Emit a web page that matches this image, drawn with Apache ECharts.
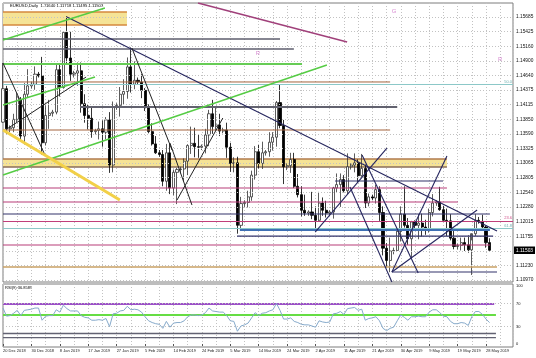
<!DOCTYPE html>
<html><head><meta charset="utf-8">
<script src="https://cdn.jsdelivr.net/npm/echarts@6/dist/echarts.min.js"></script>
<style>html,body{margin:0;padding:0;background:#fff}#c{width:536px;height:358px}</style>
</head><body><div id="c"></div>
<script>
// ---------- DATA ----------
const dateLabels = ["20 Dec 2018","30 Dec 2018","8 Jan 2019","17 Jan 2019","27 Jan 2019","5 Feb 2019","14 Feb 2019","24 Feb 2019","5 Mar 2019","14 Mar 2019","24 Mar 2019","2 Apr 2019","11 Apr 2019","21 Apr 2019","30 Apr 2019","9 May 2019","19 May 2019","28 May 2019"];
// [open, high, low, close] per daily bar (broker with Sunday bars)
const candles = [
[1.1380,1.1486,1.1379,1.1440],[1.1440,1.1445,1.1358,1.1368],[1.1368,1.1374,1.1362,1.1370],[1.1370,1.1395,1.1362,1.1385],
[1.1385,1.1432,1.1380,1.1425],[1.1420,1.1425,1.1348,1.1355],[1.1355,1.1450,1.1340,1.1430],[1.1430,1.1475,1.1425,1.1445],
[1.1445,1.1452,1.1440,1.1448],[1.1448,1.1480,1.1438,1.1466],[1.1466,1.1470,1.1460,1.1463],[1.1463,1.1497,1.1322,1.1343],
[1.1343,1.1410,1.1338,1.1392],[1.1392,1.1420,1.1368,1.1396],[1.1396,1.1402,1.1390,1.1398],[1.1398,1.1484,1.1394,1.1474],
[1.1474,1.1484,1.1426,1.1442],[1.1442,1.1542,1.1440,1.1541],[1.1541,1.1570,1.1484,1.1495],[1.1495,1.1542,1.1454,1.1466],
[1.1466,1.1472,1.1460,1.1468],[1.1468,1.1487,1.1445,1.1472],[1.1472,1.1487,1.1397,1.1413],[1.1413,1.1430,1.1379,1.1392],
[1.1392,1.1412,1.1367,1.1387],[1.1387,1.1407,1.1352,1.1363],[1.1363,1.1368,1.1358,1.1365],[1.1365,1.1381,1.1349,1.1368],
[1.1368,1.1383,1.1336,1.1362],[1.1362,1.1389,1.1349,1.1384],[1.1384,1.1398,1.1289,1.1303],[1.1303,1.1417,1.1290,1.1407],
[1.1407,1.1414,1.1402,1.1410],[1.1410,1.1443,1.1390,1.1430],[1.1430,1.1457,1.1412,1.1435],[1.1435,1.1496,1.1422,1.1479],
[1.1479,1.1514,1.1433,1.1448],[1.1448,1.1489,1.1439,1.1455],[1.1455,1.1460,1.1448,1.1452],[1.1452,1.1466,1.1423,1.1437],
[1.1437,1.1441,1.1400,1.1407],[1.1407,1.1412,1.1360,1.1363],[1.1363,1.1378,1.1338,1.1341],[1.1341,1.1355,1.1323,1.1325],
[1.1325,1.1330,1.1318,1.1322],[1.1322,1.1330,1.1265,1.1274],[1.1274,1.1341,1.1257,1.1325],[1.1325,1.1341,1.1251,1.1262],
[1.1262,1.1295,1.1249,1.1290],[1.1290,1.1298,1.1233,1.1295],[1.1295,1.1300,1.1288,1.1296],[1.1296,1.1315,1.1274,1.1310],
[1.1310,1.1340,1.1285,1.1338],[1.1338,1.1372,1.1323,1.1342],[1.1342,1.1370,1.1317,1.1336],[1.1336,1.1358,1.1316,1.1335],
[1.1335,1.1340,1.1330,1.1337],[1.1337,1.1368,1.1324,1.1357],[1.1357,1.1402,1.1337,1.1395],[1.1395,1.1420,1.1359,1.1372],
[1.1372,1.1408,1.1365,1.1375],[1.1375,1.1395,1.1355,1.1364],[1.1364,1.1370,1.1360,1.1366],[1.1366,1.1379,1.1316,1.1335],
[1.1335,1.1343,1.1291,1.1306],[1.1306,1.1317,1.1290,1.1307],[1.1307,1.1318,1.1180,1.1195],[1.1195,1.1246,1.1187,1.1234],
[1.1234,1.1240,1.1228,1.1236],[1.1236,1.1257,1.1227,1.1246],[1.1246,1.1293,1.1239,1.1285],[1.1285,1.1337,1.1277,1.1327],
[1.1327,1.1339,1.1297,1.1306],[1.1306,1.1345,1.1296,1.1325],[1.1325,1.1330,1.1320,1.1327],[1.1327,1.1362,1.1318,1.1344],
[1.1344,1.1362,1.1329,1.1353],[1.1353,1.1418,1.1336,1.1415],[1.1415,1.1448,1.1369,1.1374],[1.1374,1.1384,1.1269,1.1300],
[1.1300,1.1306,1.1294,1.1302],[1.1302,1.1325,1.1289,1.1313],[1.1313,1.1325,1.1262,1.1265],[1.1265,1.1287,1.1245,1.1250],
[1.1250,1.1265,1.1211,1.1222],[1.1222,1.1250,1.1212,1.1217],[1.1217,1.1222,1.1212,1.1219],[1.1219,1.1255,1.1206,1.1213],
[1.1213,1.1229,1.1184,1.1204],[1.1204,1.1255,1.1201,1.1235],[1.1235,1.1245,1.1212,1.1222],[1.1222,1.1239,1.1209,1.1217],
[1.1217,1.1222,1.1212,1.1219],[1.1219,1.1264,1.1207,1.1262],[1.1262,1.1288,1.1253,1.1268],[1.1268,1.1288,1.1228,1.1277],
[1.1277,1.1285,1.1254,1.1257],[1.1257,1.1324,1.1251,1.1300],[1.1300,1.1306,1.1295,1.1303],[1.1303,1.1324,1.1290,1.1307],
[1.1307,1.1313,1.1272,1.1284],[1.1284,1.1323,1.1282,1.1297],[1.1297,1.1304,1.1226,1.1235],[1.1235,1.1252,1.1229,1.1246],
[1.1246,1.1250,1.1240,1.1244],[1.1244,1.1268,1.1234,1.1259],[1.1259,1.1265,1.1203,1.1218],[1.1218,1.1229,1.1141,1.1154],
[1.1154,1.1163,1.1120,1.1132],[1.1132,1.1173,1.1111,1.1149],[1.1149,1.1155,1.1143,1.1150],[1.1150,1.1191,1.1148,1.1184],
[1.1184,1.1229,1.1166,1.1215],[1.1215,1.1265,1.1191,1.1195],[1.1195,1.1208,1.1160,1.1171],[1.1171,1.1203,1.1136,1.1201],
[1.1201,1.1204,1.1190,1.1195],[1.1195,1.1215,1.1170,1.1199],[1.1199,1.1216,1.1175,1.1192],[1.1192,1.1205,1.1178,1.1189],
[1.1189,1.1225,1.1182,1.1218],[1.1218,1.1251,1.1211,1.1235],[1.1235,1.1240,1.1230,1.1237],[1.1237,1.1264,1.1221,1.1223],
[1.1223,1.1230,1.1203,1.1204],[1.1204,1.1225,1.1176,1.1203],[1.1203,1.1215,1.1168,1.1172],[1.1172,1.1187,1.1152,1.1157],
[1.1157,1.1162,1.1152,1.1159],[1.1159,1.1173,1.1150,1.1164],[1.1164,1.1173,1.1149,1.1160],[1.1160,1.1177,1.1146,1.1151],
[1.1151,1.1168,1.1106,1.1180],[1.1180,1.1215,1.1176,1.1204],[1.1204,1.1210,1.1198,1.1202],[1.1202,1.1214,1.1187,1.1192],
[1.1192,1.1194,1.1155,1.1164],[1.11640,1.11718,1.11495,1.11503]
];
const rsiValues = [
62,48,49,53,58,49,58,59,60,62, 62,41,48,49,49,59,55,67,61,57,
57,57,49,46,45,41,41,42,41,44, 30,52,53,57,58,65,59,60,59,55,
47,40,37,35,34,27,39,29,36,37, 37,40,47,50,50,49,50,54,62,57,
56,55,55,49,40,39,22,31,33,36, 45,54,49,53,54,57,59,70,58,43,
43,45,39,37,34,33,33,31,29,40, 38,37,38,52,53,56,51,61,62,63,
58,60,41,44,45,47,40,27,23,27, 29,40,50,46,41,47,47,48,47,47,
55,59,59,54,48,47,39,35,35,37, 36,32,47,56,56,51,43,36.86
];
const priceTicks = [1.10970,1.11230,1.11493,1.11755,1.12015,1.12280,1.12540,1.12805,1.13065,1.13325,1.13590,1.13850,1.14115,1.14375,1.14640,1.14900,1.15160,1.15425,1.15685];
const currentPrice = 1.11503;
const headerOHLC = [1.11640,1.11718,1.11495,1.11503];
const rsiTicks = [100,70,30,0];
const rsiDotted = [70,30];
const rsiName = "RSI(9)";
const rsiLast = "36.8589";

// horizontal levels: [price, fromBar, toBar]
const grayLevels = [[1.15291,0,78.0],[1.15111,0,81.9]];
const greenLevels = [[1.14842,0,84.2]];
const brownLevels = [[1.14520,0,109.0],[1.13659,0,109.0]];
const darkGrayLevels = [[1.14071,21.7,111.0]];
const navyLevels = [[1.12745,93.5,123.9],[1.12153,0,137.1],[1.11758,65.9,138.0],[1.11113,109.5,139.1]];
const pinkLevels = [[1.12619,0,125.0],[1.12368,0,128.1],[1.11597,0,137.1]];
const blueLevels = [[1.11866,66.7,137.1]];
const tanLevels = [[1.11203,0,139.1]];
// full-width fibonacci levels: [price, text]
const fibCyan = [[1.14475,"50.0"],[1.11893,"61.8"]];
const fibPink = [[1.12027,"23.6"]];
// zones: [fromBar, toBar, topPrice, bottomPrice]
const zones = [[0,34.9,1.15775,1.15542],[0,125.0,1.13139,1.12996]];
// trend lines: [bar0, price0, bar1, price1]
const navyTrends = [[18.0,1.15685,139.1,1.11850],[101.1,1.13211,116.9,1.11095],[97.7,1.12637,109.5,1.10934],
  [87.9,1.11830,108.1,1.13336],[109.5,1.11113,125.0,1.13193],[109.5,1.11113,133.5,1.12225]];
const blackTrends = [[0,1.14860,11.8,1.13211],[1.1,1.13677,23.4,1.14609],[36.3,1.15129,47.6,1.13300],
  [47.0,1.13426,53.2,1.12314],[49.0,1.12404,61.9,1.13874]];
const greenTrends = [[0,1.15273,28.7,1.15846],[0,1.14107,25.9,1.14609],[0,1.12852,91.2,1.14824]];
const yellowTrends = [[0,1.13659,32.9,1.12404]];
const magentaTrends = [[54.9,1.15936,96.9,1.15237]];
// RSI pane levels: [value, fromBar, toBar]
const rsiPurple = [[69,0,138.3]];
const rsiGreen = [[50,0,138.8]];
const rsiGray = [[18,0,138.8],[11,0,138.8]];
// text marks: [text, bar, price]
const letters = [["R",71.8,1.15040],["G",110.1,1.15793],["R",140.0,1.14932]];

// axis ranges
const X_MAX = 143.6, P_MIN = 1.10934, P_MAX = 1.15936, R_MIN = -5.17, R_MAX = 103.45;

// ---------- CHART ----------
const FONT = "Liberation Sans, Arial, sans-serif";
const chart = echarts.init(document.getElementById('c'));
const dotted = {color:'#c2c2c2', type:[1,2], width:1};
const hiddenLine = {color:'rgba(0,0,0,0)', width:0};
const series = [];
function seg(points, color, width, gi, z){
  series.push({type:'line', xAxisIndex:gi, yAxisIndex:gi, data:points, symbol:'none', showSymbol:false,
    silent:true, animation:false, lineStyle:{color:color, width:width}, z:z});
}
function levels(arr, color, width, gi, z){ arr.forEach(l => seg([[l[1],l[0]],[l[2],l[0]]], color, width, gi||0, z||5)); }
function trends(arr, color, width){ arr.forEach(t => seg([[t[0],t[1]],[t[2],t[3]]], color, width, 0, 6)); }

// price grid + labels
series.push({type:'line', xAxisIndex:0, yAxisIndex:0, data:[[0,priceTicks[0]]], symbol:'none', silent:true,
  lineStyle:hiddenLine, z:1, animation:false,
  markLine:{silent:true, symbol:'none', precision:6, animation:false, lineStyle:dotted,
    label:{show:true, position:'end', distance:3, fontSize:4.8, color:'#111', fontFamily:FONT,
      formatter: p => Math.abs(p.value-currentPrice) < 0.0002 ? '' : p.value.toFixed(5)},
    data: priceTicks.map(v => ({yAxis:v}))
  }});
// current price tag
series.push({type:'line', xAxisIndex:0, yAxisIndex:0, data:[[0,currentPrice]], symbol:'none', silent:true,
  lineStyle:hiddenLine, z:8, animation:false,
  markLine:{silent:true, symbol:'none', precision:6, animation:false, lineStyle:hiddenLine,
    label:{show:true, position:'end', distance:1, fontSize:4.8, fontFamily:FONT, color:'#fff',
      backgroundColor:'#000', padding:[1.5,2,1,2], formatter: p => p.value.toFixed(5)},
    data:[{yAxis:currentPrice}]}});
// zones
series.push({type:'line', xAxisIndex:0, yAxisIndex:0, data:[[0,priceTicks[0]]], symbol:'none', silent:true,
  lineStyle:hiddenLine, z:2, animation:false,
  markArea:{silent:true, animation:false, itemStyle:{color:'#f5e396'},
    data: zones.map(zn => [{coord:[zn[0],zn[2]]},{coord:[zn[1],zn[3]]}])}});
zones.forEach((zn,i) => {
  seg([[zn[0],zn[2]],[zn[1],zn[2]]], i===0?'#d4883c':'#b07a4c', 1.3, 0, 3);
  seg([[zn[0],zn[3]],[zn[1],zn[3]]], i===0?'#d4883c':'#8a6e58', 1.3, 0, 3);
});
// fib full-width lines
series.push({type:'line', xAxisIndex:0, yAxisIndex:0, data:[[0,priceTicks[0]]], symbol:'none', silent:true,
  lineStyle:hiddenLine, z:5, animation:false,
  markLine:{silent:true, symbol:'none', precision:6, animation:false,
    label:{show:true, position:'insideEndTop', distance:1, fontSize:4, fontFamily:FONT, formatter: p => p.name},
    data: fibCyan.map(f => ({yAxis:f[0], name:f[1], lineStyle:{color:'#8cc8c8', width:1, type:'solid'}, label:{color:'#6fb0b0'}}))
      .concat(fibPink.map(f => ({yAxis:f[0], name:f[1], lineStyle:{color:'#c0407a', width:1, type:'solid'}, label:{color:'#d0508a'}})))
  }});
levels(grayLevels, '#5e5e6e', 1.4);
levels(greenLevels, '#66cc55', 2);
levels(brownLevels, '#a4643e', 1);
levels(darkGrayLevels, '#62626f', 2);
levels(navyLevels, '#33336a', 1.2);
levels(pinkLevels, '#b83c78', 1.1);
levels(blueLevels, '#3e6fb4', 2);
levels(tanLevels, '#c9a064', 1.4);
trends(navyTrends, '#25255e', 1.1);
trends(blackTrends, '#222222', 1);
trends(greenTrends, '#55cc44', 1.5);
trends(yellowTrends, '#f2d048', 3);
trends(magentaTrends, '#a0407a', 1.5);

// candles
series.push({type:'candlestick', xAxisIndex:0, yAxisIndex:0, barWidth:2.6, silent:true, animation:false, z:4,
  data: candles.map((c,i) => [i, c[0], c[3], c[2], c[1]]),
  itemStyle:{color:'#ffffff', color0:'#000000', borderColor:'#333333', borderColor0:'#000000', borderWidth:0.8}});

// letters
series.push({type:'scatter', xAxisIndex:0, yAxisIndex:0, symbolSize:1, silent:true, animation:false, z:7,
  itemStyle:{color:'rgba(0,0,0,0)'},
  data: letters.map(l => ({value:[l[1],l[2]], name:l[0]})),
  label:{show:true, position:'inside', formatter: p => p.name, color:'#d070c8', fontSize:6, fontFamily:FONT}});

// RSI pane grid + labels
series.push({type:'line', xAxisIndex:1, yAxisIndex:1, data:[[0,50]], symbol:'none', silent:true,
  lineStyle:hiddenLine, z:1, animation:false,
  markLine:{silent:true, symbol:'none', precision:6, animation:false, lineStyle:dotted,
    label:{show:true, position:'end', distance:3, fontSize:4, color:'#111', fontFamily:FONT, formatter: p => String(Math.round(p.value))},
    data: rsiTicks.map(v => rsiDotted.indexOf(v) >= 0 ? {yAxis:v} : {yAxis:v, lineStyle:hiddenLine})}});
levels(rsiPurple, '#9c50c8', 2, 1, 4);
levels(rsiGreen, '#66dd44', 2, 1, 4);
levels(rsiGray, '#626272', 1.4, 1, 4);
series.push({type:'line', xAxisIndex:1, yAxisIndex:1, data: rsiValues.map((v,i) => [i,v]), symbol:'none',
  silent:true, animation:false, z:6, lineStyle:{color:'#86aacb', width:1}});

const xCommon = {type:'value', min:0, max:X_MAX, interval:8,
  axisLine:{show:false}, splitLine:{show:true, lineStyle:dotted},
  minorTick:{show:false, splitNumber:2}, minorSplitLine:{show:true, lineStyle:dotted}};

chart.setOption({
  animation:false,
  backgroundColor:'#ffffff',
  textStyle:{fontFamily:FONT},
  grid:[
    {left:3, top:3, width:510, height:279, show:true, borderColor:'#7c7c7c', borderWidth:1, backgroundColor:'#fff'},
    {left:3, top:284, width:510, height:63, show:true, borderColor:'#7c7c7c', borderWidth:1, backgroundColor:'#fff'}
  ],
  xAxis:[
    Object.assign({gridIndex:0, axisLabel:{show:false}, axisTick:{show:false}}, xCommon),
    Object.assign({gridIndex:1,
      axisTick:{show:true, length:2, lineStyle:{color:'#555'}},
      axisLabel:{show:true, align:'left', margin:2, fontSize:4, color:'#222', fontFamily:FONT,
        showMinLabel:true, showMaxLabel:false,
        formatter: v => { const k = v/8; return (Number.isInteger(k) && dateLabels[k]) ? dateLabels[k] : ''; }}}, xCommon)
  ],
  yAxis:[
    {gridIndex:0, type:'value', min:P_MIN, max:P_MAX, show:false, splitLine:{show:false}},
    {gridIndex:1, type:'value', min:R_MIN, max:R_MAX, show:false, splitLine:{show:false}}
  ],
  graphic:[
    {type:'text', left:10, top:3.5, silent:true, style:{text:'EURUSD,Daily  ' + headerOHLC.map(v => v.toFixed(5)).join(' '), fontSize:4.2, fill:'#000', fontFamily:FONT}},
    {type:'text', left:5, top:285.5, silent:true, style:{text:rsiName + ' ' + rsiLast, fontSize:4, fill:'#000', fontFamily:FONT}}
  ],
  series: series
});
</script></body></html>
